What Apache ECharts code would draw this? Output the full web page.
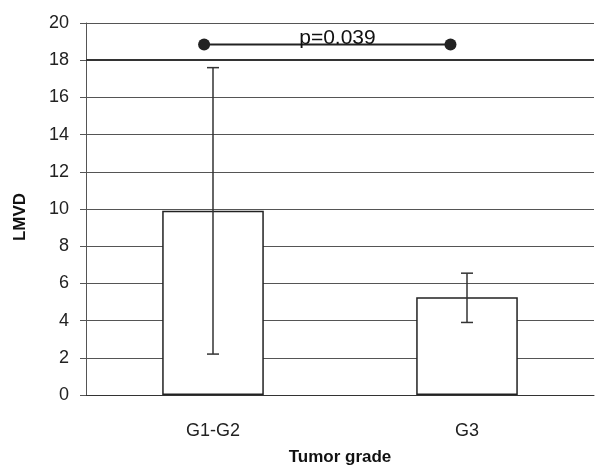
<!DOCTYPE html>
<html>
<head>
<meta charset="utf-8">
<script src="https://cdn.jsdelivr.net/npm/echarts@6/dist/echarts.min.js"></script>
<style>html,body{margin:0;padding:0;background:#fff}#c{width:597px;height:465px}</style>
</head>
<body>
<div id="c"></div>
<script>
const categories = ['G1-G2', 'G3'];
const means = [9.9, 5.25];
const errLow = [2.2, 3.9];
const errHigh = [17.6, 6.55];
const yMin = 0, yMax = 20, yInterval = 2;
const sigX = [0.465, 1.435];
const sigY = 18.85;
const pLabel = 'p=0.039';
const pLabelPos = [0.99, 19.2];

const FONT = 'Liberation Sans, Arial, sans-serif';
const chart = echarts.init(document.getElementById('c'));
const errData = categories.map((c, i) => [i, errLow[i], errHigh[i]]);

chart.setOption({
  backgroundColor: '#fff',
  animation: false,
  grid: { left: 86, right: 3, top: 23, bottom: 70, containLabel: false, outerBoundsMode: 'none' },
  xAxis: [{
    type: 'category', data: categories, boundaryGap: true,
    axisLine: { show: true, lineStyle: { color: '#333', width: 1 } },
    axisTick: { show: false },
    axisLabel: { color: '#222', fontSize: 18, fontFamily: FONT, margin: 27 },
    name: 'Tumor grade', nameLocation: 'middle', nameGap: 54,
    nameTextStyle: { color: '#111', fontSize: 17, fontWeight: 'bold', fontFamily: FONT }
  }, {
    type: 'value', min: 0, max: 2, show: false
  }],
  yAxis: {
    type: 'value', min: yMin, max: yMax, interval: yInterval,
    axisLine: { show: true, lineStyle: { color: '#555', width: 1 } },
    axisTick: { show: true, length: 6, lineStyle: { color: '#555' } },
    axisLabel: { color: '#222', fontSize: 18, fontFamily: FONT, margin: 17 },
    splitLine: { show: true, lineStyle: { color: '#555', width: 1 } },
    name: 'LMVD', nameLocation: 'middle', nameGap: 57, nameRotate: 90,
    nameTextStyle: { color: '#111', fontSize: 17, fontWeight: 'bold', fontFamily: FONT, padding: [0, 16, 0, 0] }
  },
  series: [{
    type: 'bar', data: means, barWidth: '40%',
    itemStyle: { color: '#fff', borderColor: '#222', borderWidth: 1.5 },
    markLine: {
      silent: true, symbol: 'none', label: { show: false },
      lineStyle: { color: '#333', width: 2, type: 'solid' },
      data: [{ yAxis: 18 }]
    },
    z: 2
  }, {
    type: 'custom', data: errData, z: 3,
    renderItem: function (params, api) {
      const x = api.value(0);
      const lo = api.coord([x, api.value(1)]);
      const hi = api.coord([x, api.value(2)]);
      const w = 6;
      const st = { stroke: '#333', lineWidth: 1.5 };
      return { type: 'group', children: [
        { type: 'line', shape: { x1: lo[0], y1: lo[1], x2: hi[0], y2: hi[1] }, style: st },
        { type: 'line', shape: { x1: lo[0] - w, y1: lo[1], x2: lo[0] + w, y2: lo[1] }, style: st },
        { type: 'line', shape: { x1: hi[0] - w, y1: hi[1], x2: hi[0] + w, y2: hi[1] }, style: st }
      ]};
    }
  }, {
    type: 'line', xAxisIndex: 1, z: 4,
    data: sigX.map(x => [x, sigY]),
    symbol: 'circle', symbolSize: 12, showAllSymbol: true,
    lineStyle: { color: '#222', width: 2 },
    itemStyle: { color: '#222' }
  }, {
    type: 'scatter', xAxisIndex: 1, z: 5,
    data: [pLabelPos], symbolSize: 0,
    itemStyle: { opacity: 1 },
    label: { show: true, position: 'inside', formatter: pLabel, color: '#111', opacity: 1, fontSize: 21, fontFamily: FONT }
  }]
});
</script>
</body>
</html>
